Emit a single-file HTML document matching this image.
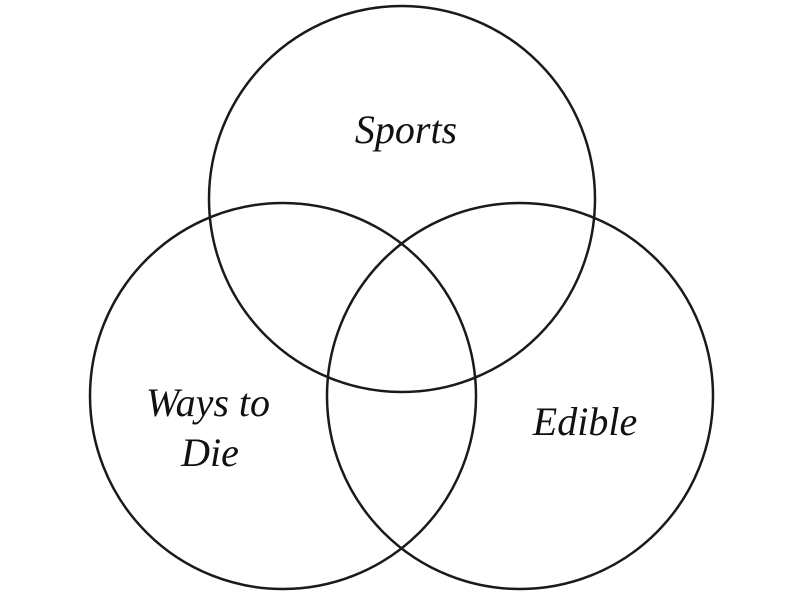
<!DOCTYPE html>
<html><head><style>
html,body{margin:0;padding:0;background:#fff;width:800px;height:600px;overflow:hidden}
</style></head><body>
<svg width="800" height="600" viewBox="0 0 800 600" xmlns="http://www.w3.org/2000/svg">
<rect width="800" height="600" fill="#fff"/>
<g fill="none" stroke="#1a1a1a" stroke-width="2.5">
<circle cx="402" cy="199" r="193"/>
<circle cx="283" cy="396" r="193"/>
<circle cx="520" cy="396" r="193"/>
</g>
<g font-family="Liberation Serif, serif" font-style="italic" font-size="40" fill="#111" text-anchor="middle">
<text x="406" y="143">Sports</text>
<text x="208" y="416">Ways to</text>
<text x="210" y="466">Die</text>
<text x="585" y="435">Edible</text>
</g>
</svg>
</body></html>
